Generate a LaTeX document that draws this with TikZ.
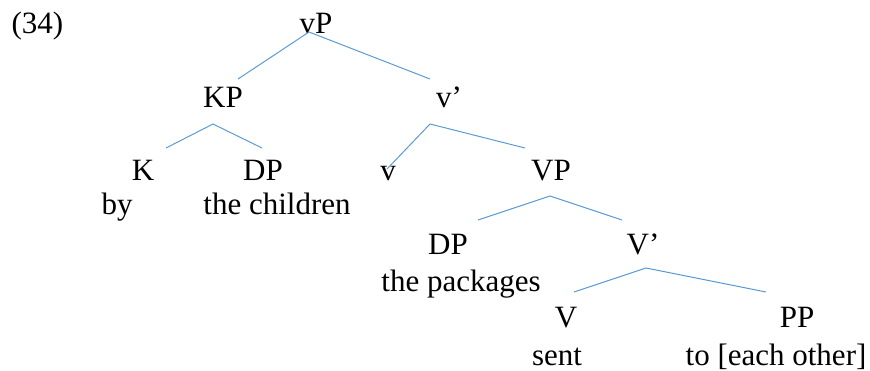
\documentclass[tikz,border=0pt]{standalone}
\usepackage{fontspec}
\setmainfont{Liberation Serif}
\definecolor{branch}{RGB}{91,155,213}
\begin{document}
\begin{tikzpicture}[x=1pt,y=-1pt,
  lab/.style={anchor=base,inner sep=0pt,font=\fontsize{31}{31}\selectfont},
  br/.style={draw=branch,line width=1pt}]
\useasboundingbox (0,0) rectangle (870,370);
\node[lab] (ex) at (37.5,33) {(34)};
\node[lab] (vP) at (316,33) {vP};
\node[lab] (KP) at (223,107) {KP};
\node[lab] (vbar) at (449,107) {v’};
\node[lab] (K) at (143,180) {K};
\node[lab] (DPa) at (263,180) {DP};
\node[lab] (v) at (388,180) {v};
\node[lab] (VP) at (551,180) {VP};
\node[lab] (by) at (117,214) {by};
\node[lab] (children) at (277,214) {the children};
\node[lab] (DPb) at (448,254) {DP};
\node[lab] (Vbar) at (643,254) {V’};
\node[lab] (packages) at (461,291) {the packages};
\node[lab] (V) at (566,327) {V};
\node[lab] (PP) at (797,327) {PP};
\node[lab] (sent) at (557,365) {sent};
\node[lab] (eo) at (776,365) {to [each other]};
% branch end points
\coordinate (a1) at (309,32);  \coordinate (a1l) at (238,79);  \coordinate (a1r) at (430,79);
\coordinate (a2) at (213,124); \coordinate (a2l) at (166,148); \coordinate (a2r) at (262,148);
\coordinate (a3) at (430,124); \coordinate (a3l) at (387,169); \coordinate (a3r) at (525,148);
\coordinate (a4) at (550,196); \coordinate (a4l) at (478,220); \coordinate (a4r) at (622,220);
\coordinate (a5) at (646,268); \coordinate (a5l) at (574,292); \coordinate (a5r) at (766,292);
\draw[br] (a1l) -- (a1) -- (a1r);
\draw[br] (a2l) -- (a2) -- (a2r);
\draw[br] (a3l) -- (a3) -- (a3r);
\draw[br] (a4l) -- (a4) -- (a4r);
\draw[br] (a5l) -- (a5) -- (a5r);
\end{tikzpicture}
\end{document}
